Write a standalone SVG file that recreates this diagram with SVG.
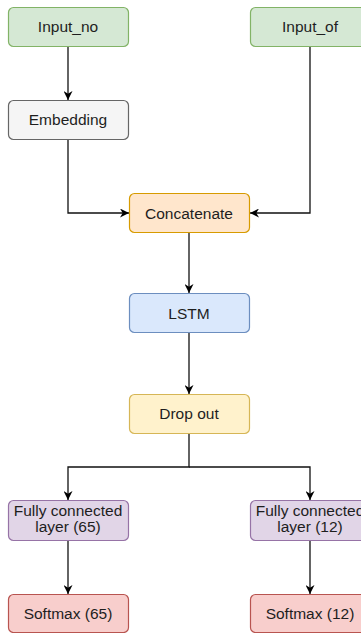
<svg xmlns="http://www.w3.org/2000/svg" width="361" height="633" viewBox="0 0 361 633">
  <defs>
    <marker id="arrow" viewBox="0 0 10 10" refX="10" refY="5" markerWidth="10" markerHeight="9" markerUnits="userSpaceOnUse" orient="auto">
      <path d="M0,0 L10,5 L0,10 L3,5 z" fill="#000"/>
    </marker>
  </defs>
  <style>
    .box { stroke-width: 1.2; }
    .lbl { font-family: "Liberation Sans", Arial, sans-serif; font-size: 15.5px; fill: #1e1e1e; text-anchor: middle; }
    .green { fill: #d5e8d4; stroke: #82b366; }
    .grey { fill: #f5f5f5; stroke: #666666; }
    .orange { fill: #ffe6cc; stroke: #d79b00; }
    .blue { fill: #dae8fc; stroke: #6c8ebf; }
    .yellow { fill: #fff2cc; stroke: #d6b656; }
    .purple { fill: #e1d5e7; stroke: #9673a6; }
    .red { fill: #f8cecc; stroke: #b85450; }
    .edge { fill: none; stroke: #111; stroke-width: 1.3; }
  </style>
  <rect width="361" height="633" fill="#ffffff"/>

  <!-- connectors -->
  <g id="connectors">
    <path class="edge" d="M68,46 L68,100" marker-end="url(#arrow)"/>
    <path class="edge" d="M68,140 L68,213 L129,213" marker-end="url(#arrow)"/>
    <path class="edge" d="M310,46 L310,213 L250,213" marker-end="url(#arrow)"/>
    <path class="edge" d="M189,233 L189,293" marker-end="url(#arrow)"/>
    <path class="edge" d="M189,333 L189,394" marker-end="url(#arrow)"/>
    <path class="edge" d="M189,433 L189,467 L68,467 L68,500" marker-end="url(#arrow)"/>
    <path class="edge" d="M189,467 L310,467 L310,500" marker-end="url(#arrow)"/>
    <path class="edge" d="M68,541 L68,594" marker-end="url(#arrow)"/>
    <path class="edge" d="M310,541 L310,594" marker-end="url(#arrow)"/>
  </g>

  <g id="input_no">
    <rect class="box green" x="8.5" y="7.5" width="120" height="39" rx="5"/>
    <text class="lbl" x="68" y="32">Input_no</text>
  </g>
  <g id="input_of">
    <rect class="box green" x="250.5" y="7.5" width="120" height="39" rx="5"/>
    <text class="lbl" x="310" y="32">Input_of</text>
  </g>
  <g id="embedding">
    <rect class="box grey" x="8.5" y="100.5" width="120" height="39" rx="5"/>
    <text class="lbl" x="68" y="125">Embedding</text>
  </g>
  <g id="concatenate">
    <rect class="box orange" x="129.5" y="193.5" width="120" height="39" rx="5"/>
    <text class="lbl" x="189" y="219">Concatenate</text>
  </g>
  <g id="lstm">
    <rect class="box blue" x="129.5" y="293.5" width="120" height="39" rx="5"/>
    <text class="lbl" x="189" y="319">LSTM</text>
  </g>
  <g id="dropout">
    <rect class="box yellow" x="129.5" y="394.5" width="120" height="39" rx="5"/>
    <text class="lbl" x="189" y="419">Drop out</text>
  </g>
  <g id="fc65">
    <rect class="box purple" x="8.5" y="500.5" width="120" height="40" rx="5"/>
    <text class="lbl" x="68" y="516">Fully connected</text>
    <text class="lbl" x="68" y="532">layer (65)</text>
  </g>
  <g id="fc12">
    <rect class="box purple" x="250.5" y="500.5" width="120" height="40" rx="5"/>
    <text class="lbl" x="310" y="516">Fully connected</text>
    <text class="lbl" x="310" y="532">layer (12)</text>
  </g>
  <g id="softmax65">
    <rect class="box red" x="8.5" y="594.5" width="120" height="38" rx="5"/>
    <text class="lbl" x="68" y="619">Softmax (65)</text>
  </g>
  <g id="softmax12">
    <rect class="box red" x="250.5" y="594.5" width="120" height="38" rx="5"/>
    <text class="lbl" x="310" y="619">Softmax (12)</text>
  </g>
</svg>
